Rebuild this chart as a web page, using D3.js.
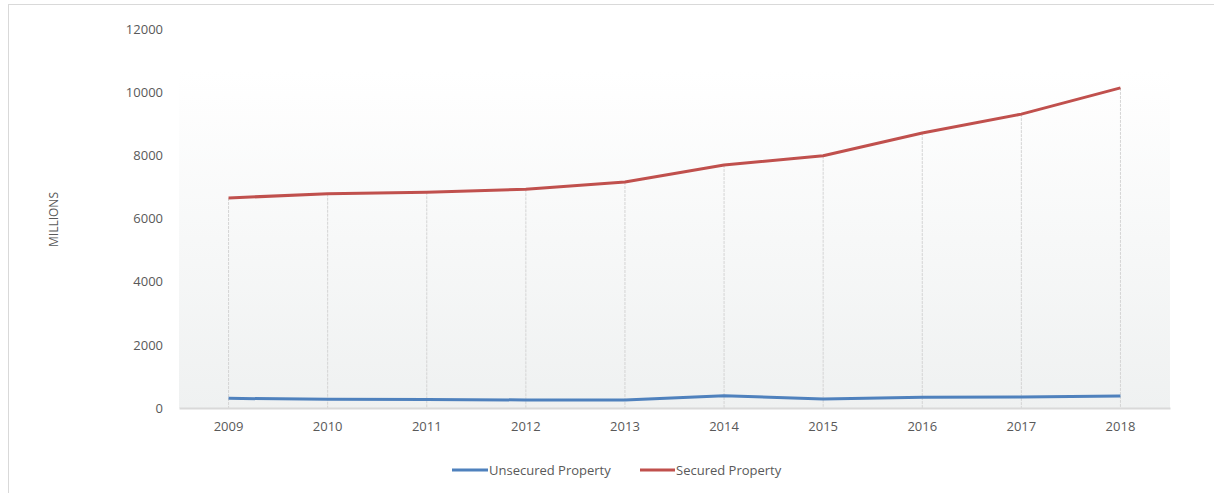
<!DOCTYPE html>
<html>
<head>
<meta charset="utf-8">
<script src="https://cdn.jsdelivr.net/npm/d3@7"></script>
<style>
  html, body { margin: 0; padding: 0; background: #fff; }
  svg { display: block; font-family: "Open Sans", sans-serif; }
</style>
</head>
<body>
<svg id="chart" width="1214" height="493"></svg>
<script>
// Property values by year, in millions
const years = ["2009", "2010", "2011", "2012", "2013", "2014", "2015", "2016", "2017", "2018"];
const unsecured = [305, 275, 268, 255, 253, 390, 285, 338, 348, 380];
const secured = [6650, 6785, 6830, 6925, 7155, 7695, 7985, 8705, 9305, 10135];
const yTicks = [0, 2000, 4000, 6000, 8000, 10000, 12000];
const seriesNames = ["Unsecured Property", "Secured Property"];
const seriesColors = ["#4f81bd", "#c0504d"];

const svg = d3.select("#chart");
const plotLeft = 179, plotRight = 1170, plotTop = 29, plotBottom = 408;
const font = "'Open Sans', sans-serif";

// outer frame
svg.append("rect")
  .attr("x", 8.5).attr("y", 4.5).attr("width", 1230).attr("height", 520)
  .attr("fill", "none").attr("stroke", "#d9d9d9");

const x = d3.scaleBand().domain(years).range([plotLeft, plotRight]);
const y = d3.scaleLinear().domain([0, 12000]).range([plotBottom, plotTop]);

// plot area background: white fading to pale grey
const defs = svg.append("defs");
const grad = defs.append("linearGradient").attr("id", "plotBg")
  .attr("x1", 0).attr("y1", 0).attr("x2", 0).attr("y2", 1);
grad.append("stop").attr("offset", "0%").attr("stop-color", "#ffffff");
grad.append("stop").attr("offset", "100%").attr("stop-color", "#eff1f1");
const bgTop = y(10000) - 21;
svg.append("rect")
  .attr("x", plotLeft).attr("y", bgTop)
  .attr("width", plotRight - plotLeft).attr("height", plotBottom - bgTop)
  .attr("fill", "url(#plotBg)");

// y axis labels
const yAxis = d3.axisLeft(y).tickValues(yTicks).tickSize(0).tickPadding(16).tickFormat(d3.format("d"));
const gy = svg.append("g").attr("transform", `translate(${plotLeft},0)`).call(yAxis);
gy.select(".domain").remove();
gy.selectAll("text").attr("fill", "#595959").style("font-size", "13px").style("font-family", font);

// y axis title
svg.append("text")
  .attr("transform", `translate(58,${(plotTop + plotBottom) / 2 + 1}) rotate(-90)`)
  .attr("text-anchor", "middle").attr("fill", "#595959").style("font-size", "12px")
  .style("font-family", font)
  .text("MILLIONS");

// drop lines from the higher series down to the axis
const cx = d => x(d) + x.bandwidth() / 2;
svg.append("g").selectAll("line").data(years).join("line")
  .attr("x1", d => cx(d)).attr("x2", d => cx(d))
  .attr("y1", (d, i) => y(Math.max(secured[i], unsecured[i])))
  .attr("y2", plotBottom)
  .attr("stroke", "#d4d4d4").attr("stroke-width", 1).attr("stroke-dasharray", "3,1");

// x axis
const xAxis = d3.axisBottom(x).tickSize(0).tickPadding(14);
const gx = svg.append("g").attr("transform", `translate(0,${plotBottom})`).call(xAxis);
gx.select(".domain").attr("stroke", "#d9d9d9").attr("stroke-width", 2);
gx.selectAll("text").attr("fill", "#595959").style("font-size", "13px").style("font-family", font);

// series lines
const line = d3.line().x((d, i) => cx(years[i])).y(d => y(d));
[unsecured, secured].forEach((vals, k) => {
  svg.append("path").datum(vals)
    .attr("d", line).attr("fill", "none")
    .attr("stroke", seriesColors[k]).attr("stroke-width", 3)
    .attr("stroke-linejoin", "round");
});

// legend
const legendItems = [{x: 452, w: 36}, {x: 640, w: 35}];
seriesNames.forEach((name, k) => {
  const g = svg.append("g").attr("transform", `translate(${legendItems[k].x},470)`);
  g.append("line").attr("x1", 0).attr("x2", legendItems[k].w)
    .attr("stroke", seriesColors[k]).attr("stroke-width", 3);
  g.append("text").attr("x", legendItems[k].w + 1).attr("y", 0).attr("dy", "0.35em")
    .attr("fill", "#595959").style("font-size", "13px").style("font-family", font).text(name);
});
</script>
</body>
</html>
